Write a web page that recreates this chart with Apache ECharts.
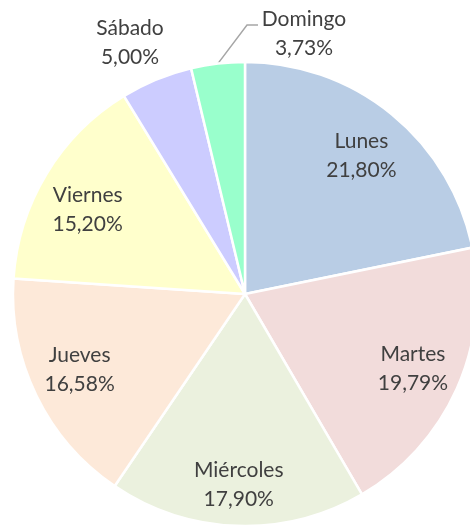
<!DOCTYPE html>
<html>
<head>
<meta charset="utf-8">
<script src="https://cdn.jsdelivr.net/npm/echarts@6/dist/echarts.min.js"></script>
<style>
    html, body { margin: 0; padding: 0; background: #ffffff; }
    #chart { width: 470px; height: 527px; }
</style>
</head>
<body>
<div id="chart"></div>
<script>
// dias de la semana y porcentaje de cada uno
const dias = ["Lunes", "Martes", "Miércoles", "Jueves", "Viernes", "Sábado", "Domingo"];
const porcentajes = [21.80, 19.79, 17.90, 16.58, 15.20, 5.00, 3.73];
const colores = ["#B9CDE5", "#F2DCDB", "#EBF1DE", "#FDE9D9", "#FFFFCC", "#CCCCFF", "#99FFCC"];

const chart = echarts.init(document.getElementById("chart"), null, { renderer: "canvas" });

const fmt = v => v.toFixed(2).replace(".", ",") + "%";

const dataPie = dias.map((d, i) => ({
    name: d,
    value: porcentajes[i],
    itemStyle: { color: colores[i] }
}));

// serie solo para etiquetas (radio medio mas afuera que el por defecto)
const dataLabels = dias.map((d, i) => {
    const item = { name: d, value: porcentajes[i] };
    if (i >= 5) {
        item.label = { position: "outside", overflow: "none" };
        item.labelLine = { show: i === 6 };
    }
    return item;
});

const textStyle = {
    fontFamily: "Lato",
    fontSize: 21,
    lineHeight: 29,
    color: "#404040"
};

// ajuste de etiquetas (como en el original)
function acomodar (p) {
    if (p.dataIndex === 5) {
        return { x: 130, y: 43, align: "center", verticalAlign: "middle" };
    }
    if (p.dataIndex === 6) {
        const ini = p.labelLinePoints ? p.labelLinePoints[0] : [218, 62];
        return {
            x: 304, y: 34, align: "center", verticalAlign: "middle",
            labelLinePoints: [ini, [247, 25], [258, 25]]
        };
    }
    if (p.dataIndex === 4) return { dy: 11 };
    if (p.dataIndex === 2) return { dy: 7 };
    if (p.dataIndex === 3) return { dy: -5 };
    if (p.dataIndex === 0) return { dy: 4 };
    return {};
}

const option = {
    animation: false,
    series: [
        {
            type: "pie",
            center: [245, 294],
            radius: [0, 232],
            startAngle: 90,
            silent: true,
            label: { show: false },
            labelLine: { show: false },
            itemStyle: { borderColor: "#ffffff", borderWidth: 2.5 },
            data: dataPie
        },
        {
            type: "pie",
            center: [245, 294],
            radius: [130, 232],
            startAngle: 90,
            silent: true,
            itemStyle: { color: "rgba(0,0,0,0)" },
            label: Object.assign({
                show: true,
                position: "inside",
                formatter: p => p.name + "\n" + fmt(p.value)
            }, textStyle),
            labelLine: {
                show: false,
                length: 12,
                length2: 10,
                lineStyle: { color: "#A6A6A6", width: 1.5 }
            },
            labelLayout: acomodar,
            data: dataLabels
        }
    ]
};

chart.setOption(option);
</script>
</body>
</html>
